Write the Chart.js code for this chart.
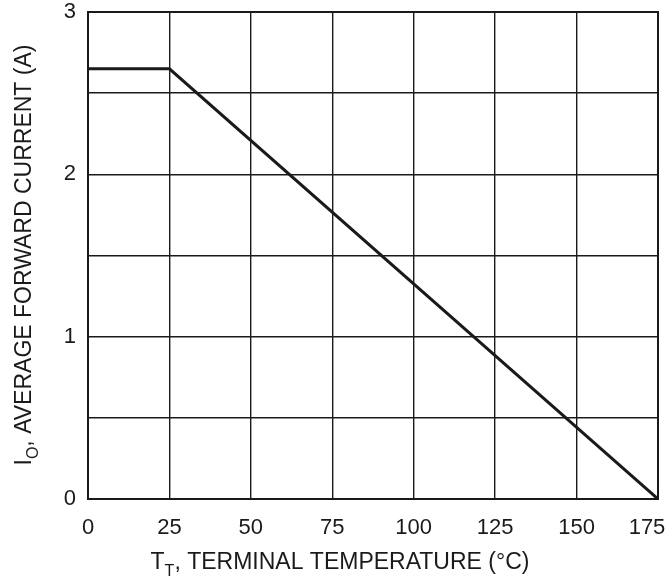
<!DOCTYPE html>
<html>
<head>
<meta charset="utf-8">
<script src="https://cdn.jsdelivr.net/npm/chart.js@4/dist/chart.umd.min.js"></script>
<style>
html,body{margin:0;padding:0;background:#fff;}
#wrap{width:667px;height:577px;position:relative;}
</style>
</head>
<body>
<div id="wrap"><canvas id="c" width="667" height="577"></canvas></div>
<script>
// Data
const temperatures = [0, 25, 175];          // T_T (°C)
const currents = [2.65, 2.65, 0];            // I_O (A)
const xTicks = [0, 25, 50, 75, 100, 125, 150, 175];
const yTickLabels = [0, 1, 2, 3];
const xTitleMain = ['T', 'T', ', TERMINAL TEMPERATURE (°C)'];
const yTitleMain = ['I', 'O', ', AVERAGE FORWARD CURRENT (A)'];

const FONT = '"Liberation Sans", Arial, Helvetica, sans-serif';
const INK = '#1a1a1a';

function drawSubTitle(ctx, parts, size) {
  // parts: [main, sub, rest]; drawn centered horizontally, baseline at 0
  ctx.font = size + 'px ' + FONT;
  const w0 = ctx.measureText(parts[0]).width;
  const w2 = ctx.measureText(parts[2]).width;
  const sub = Math.round(size * 0.7);
  ctx.font = sub + 'px ' + FONT;
  const w1 = ctx.measureText(parts[1]).width;
  const total = w0 + w1 + w2;
  let x = -total / 2;
  ctx.textBaseline = 'alphabetic';
  ctx.textAlign = 'left';
  ctx.font = size + 'px ' + FONT;
  ctx.fillText(parts[0], x, 0);
  x += w0;
  ctx.font = sub + 'px ' + FONT;
  ctx.fillText(parts[1], x, size * 0.3);
  x += w1;
  ctx.font = size + 'px ' + FONT;
  ctx.fillText(parts[2], x, 0);
}

const titlePlugin = {
  id: 'subTitles',
  afterDraw(chart) {
    const ctx = chart.ctx;
    const a = chart.chartArea;
    ctx.save();
    ctx.fillStyle = INK;
    ctx.translate(340, 569);
    drawSubTitle(ctx, xTitleMain, 23);
    ctx.restore();
    ctx.save();
    ctx.fillStyle = INK;
    ctx.translate(31, 255);
    ctx.rotate(-Math.PI / 2);
    drawSubTitle(ctx, yTitleMain, 23);
    ctx.restore();
    // frame
    ctx.save();
    ctx.strokeStyle = INK;
    ctx.lineWidth = 2;
    ctx.strokeRect(a.left, a.top, a.right - a.left, a.bottom - a.top);
    ctx.restore();
  }
};

new Chart(document.getElementById('c'), {
  type: 'line',
  data: {
    datasets: [{
      data: temperatures.map((t, i) => ({x: t, y: currents[i]})),
      borderColor: INK,
      borderWidth: 3,
      pointRadius: 0,
      tension: 0,
      fill: false
    }]
  },
  options: {
    responsive: false,
    animation: false,
    devicePixelRatio: 1,
    layout: {padding: {top: 12, right: 9, left: 0, bottom: 0}},
    plugins: {legend: {display: false}, tooltip: {enabled: false}},
    scales: {
      x: {
        type: 'linear',
        min: xTicks[0],
        max: xTicks[xTicks.length - 1],
        afterBuildTicks(axis) { axis.ticks = xTicks.map(v => ({value: v})); },
        afterFit(axis) {
          axis.height = 78;
          axis.paddingLeft = 0; axis.paddingRight = 0;
        },
        grid: {color: INK, lineWidth: 1.4, drawTicks: false},
        border: {display: false},
        ticks: {
          color: INK, padding: 16, maxRotation: 0, autoSkip: false,
          font: {family: FONT, size: 22},
          // last label nudged left so it stays inside the picture
          callback: v => v === xTicks[xTicks.length - 1] ? String(v) + '\u2003' : String(v)
        }
      },
      y: {
        min: 0,
        max: 3,
        ticks: {
          stepSize: 0.5,
          color: INK,
          padding: 12,
          autoSkip: false,
          font: {family: FONT, size: 22},
          callback: v => yTickLabels.includes(v) ? String(v) : ''
        },
        afterFit(axis) {
          axis.width = 88;
          axis.paddingTop = 0; axis.paddingBottom = 0;
        },
        grid: {color: INK, lineWidth: 1.4, drawTicks: false},
        border: {display: false}
      }
    }
  },
  plugins: [titlePlugin]
});
</script>
</body>
</html>
